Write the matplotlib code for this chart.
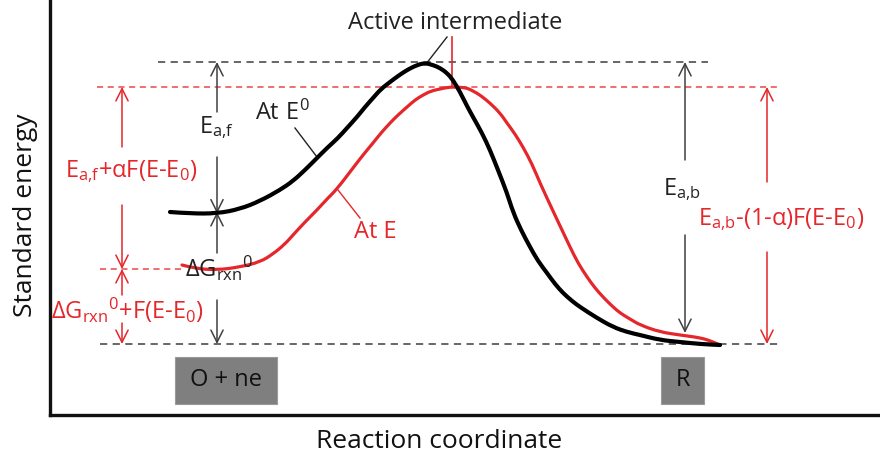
import matplotlib
matplotlib.use("Agg")
import matplotlib.pyplot as plt
from matplotlib.patches import Rectangle, PathPatch
from matplotlib.path import Path

plt.rcParams['font.family'] = ['Open Sans', 'DejaVu Sans']
plt.rcParams['mathtext.fontset'] = 'custom'
plt.rcParams['mathtext.rm'] = 'Open Sans'
plt.rcParams['mathtext.it'] = 'Open Sans'
plt.rcParams['mathtext.bf'] = 'Open Sans'

RED = '#e5262b'
GREY = '#404040'
DASH = '#5a5a5a'

# energy profile at the standard potential E0
coord_e0 = [170, 190, 217, 240, 260, 280, 293, 305, 317, 327, 338, 347, 357, 365, 373,
            381, 390, 398, 407, 417, 425, 433, 440, 447, 453, 460, 467, 473, 482, 490,
            498, 507, 513, 521, 530, 538, 547, 555, 563, 572, 580, 597, 613, 627, 640,
            660, 680, 700, 720]
energy_e0 = [203, 201.5, 201.5, 206, 214, 225, 234, 245, 257, 267, 277, 287, 298, 308, 317,
             326, 333, 339, 345, 350, 352, 350, 347, 342, 335, 323, 309, 298, 282, 265,
             245, 222, 203, 185, 168, 154, 142, 131, 122, 114, 108, 97, 88, 83, 80,
             75, 73, 71, 70]

# energy profile at the applied potential E
coord_e = [182, 195, 217, 240, 260, 273, 285, 293, 305, 317, 327, 337, 353, 363, 373,
           381, 390, 398, 407, 415, 423, 431, 440, 447, 453, 460, 467, 473, 480, 490,
           500, 507, 515, 523, 532, 540, 553, 562, 570, 578, 587, 595, 603, 612, 620,
           630, 640, 660, 680, 695, 705, 713, 720]
energy_e = [150, 146.5, 145, 148, 153, 161, 171, 180, 193, 205, 216, 226, 247, 260, 272,
            282, 292, 300, 308, 315, 320, 324, 326, 327.5, 328, 327.7, 327, 324, 320, 312,
            302, 292, 281, 268, 251, 232, 204, 185, 168, 152, 138, 127, 118, 109, 102,
            96, 90, 83, 80, 78, 76, 73, 70]

# reference levels
ts_e0 = 353      # transition state at E0
ts_e = 328       # transition state at E
ox_e = 146       # O + ne at E
red_level = 71   # R

fig = plt.figure(figsize=(8.8, 4.53), dpi=100)
ax = fig.add_axes([50 / 880, 38 / 453, 830 / 880, 415 / 453])
ax.set_xlim(50, 880)
ax.set_ylim(0, 415)
ax.set_xticks([])
ax.set_yticks([])
for s in ['top', 'right']:
    ax.spines[s].set_visible(False)
for s in ['left', 'bottom']:
    ax.spines[s].set_linewidth(2.4)
    ax.spines[s].set_color('#111111')

# dashed level lines
ax.hlines(ts_e0, 158, 708, colors=DASH, linestyles=(0, (4, 3)), lw=1.3)
ax.hlines(ts_e, 97, 778, colors=RED, linestyles=(0, (4, 3)), lw=1.1, alpha=0.85)
ax.hlines(ox_e, 100, 183, colors=RED, linestyles=(0, (4, 3)), lw=1.1, alpha=0.85)
ax.hlines(red_level, 100, 778, colors=DASH, linestyles=(0, (4, 3)), lw=1.3)


def smooth_profile(xs, ys, color, lw, z):
    # quadratic bezier through midpoints, the samples act as control points
    pts = list(zip(xs, ys))
    verts = [pts[0]]
    codes = [Path.MOVETO]
    for i in range(1, len(pts) - 1):
        mid = ((pts[i][0] + pts[i + 1][0]) / 2, (pts[i][1] + pts[i + 1][1]) / 2)
        verts += [pts[i], mid]
        codes += [Path.CURVE3, Path.CURVE3]
    verts.append(pts[-1])
    codes.append(Path.LINETO)
    ax.add_patch(PathPatch(Path(verts, codes), facecolor='none', edgecolor=color,
                           lw=lw, capstyle='round', joinstyle='round', zorder=z))


# profiles
smooth_profile(coord_e, energy_e, RED, 2.3, 3)
smooth_profile(coord_e0, energy_e0, 'black', 3.0, 4)


def arrow(x, y0, y1, color):
    ax.annotate('', xy=(x, y1), xytext=(x, y0),
                arrowprops=dict(arrowstyle='->', color=color, lw=1.1,
                                mutation_scale=22, shrinkA=0, shrinkB=0))


fs = 17
# forward barrier at E0
arrow(217, 303, ts_e0, GREY)
arrow(217, 258, 201.5, GREY)
ax.text(217, 287, r'$\mathregular{E_{a{,}f}}$', ha='center', va='center', fontsize=fs, color='#222222')
arrow(217, 162, 203, GREY)
arrow(217, 115, red_level, GREY)
ax.text(185, 147, r'$\mathregular{\Delta G_{rxn}{}^{0}}$', ha='left', va='center', fontsize=fs, color='#222222')

# forward barrier / reaction energy at E
arrow(122, 268, ts_e, RED)
arrow(122, 210, ox_e, RED)
ax.text(131, 243, r'$\mathregular{E_{a{,}f}{+}\alpha F(E\text{-}E_0)}$', ha='center', va='center', fontsize=fs, color=RED)
arrow(122, 120, ox_e, RED)
arrow(122, 92, red_level, RED)
ax.text(127, 105, r'$\mathregular{\Delta G_{rxn}{}^{0}{+}F(E\text{-}E_0)}$', ha='center', va='center', fontsize=fs, color=RED)

# backward barriers
arrow(685, 255, ts_e0, GREY)
arrow(685, 180, 82, GREY)
ax.text(682, 225, r'$\mathregular{E_{a{,}b}}$', ha='center', va='center', fontsize=fs, color='#222222')
arrow(767, 233, ts_e, RED)
arrow(767, 163, red_level, RED)
ax.text(781, 195, r'$\mathregular{E_{a{,}b}\text{-}(1\text{-}\alpha)F(E\text{-}E_0)}$', ha='center', va='center', fontsize=fs, color=RED)

# curve labels
ax.plot([295, 317], [287, 258], color='#222222', lw=1.0)
ax.text(282, 302, r'$\mathregular{At\ E^{0}}$', ha='center', va='center', fontsize=fs, color='#222222')
ax.plot([338, 360], [225, 197], color=RED, lw=1.0)
ax.text(375, 183, 'At E', ha='center', va='center', fontsize=fs, color=RED)
ax.plot([426, 447], [351, 378], color='#222222', lw=1.0)
ax.plot([452, 452], [ts_e, 378], color=RED, lw=1.2)
ax.text(455, 392, 'Active intermediate', ha='center', va='center', fontsize=fs, color='#222222')

# species boxes
ax.add_patch(Rectangle((175, 11), 102, 47, facecolor='#7f7f7f', edgecolor='#9a9a9a', lw=0.8))
ax.text(226, 34.5, 'O + ne', ha='center', va='center', fontsize=fs, color='#111111')
ax.add_patch(Rectangle((661, 11), 43, 47, facecolor='#7f7f7f', edgecolor='#9a9a9a', lw=0.8))
ax.text(682.5, 34.5, 'R', ha='center', va='center', fontsize=fs, color='#111111')

ax.set_xlabel('Reaction coordinate', fontsize=19, color='#111111')
ax.xaxis.set_label_coords((439 - 50) / 830, -26 / 415)
ax.xaxis.label.set_va('center')
ax.set_ylabel('Standard energy', fontsize=19, color='#111111')
ax.yaxis.set_label_coords(-25 / 830, (415 - 215) / 415)
ax.yaxis.label.set_va('center')

fig.savefig('out.png', dpi=100)
